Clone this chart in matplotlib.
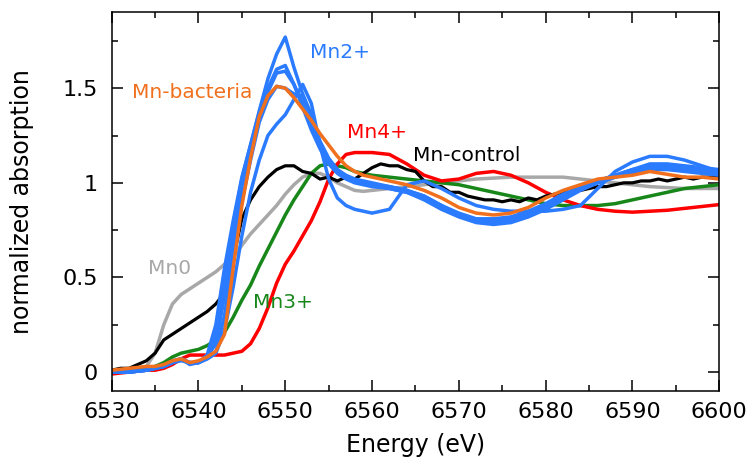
import numpy as np
import matplotlib
matplotlib.use('Agg')
import matplotlib.pyplot as plt
from matplotlib.ticker import MultipleLocator

# Energías comunes (eV) para los espectros suaves
energy = [6530, 6532, 6534, 6535, 6536, 6537, 6538, 6539, 6540, 6541, 6542, 6543,
          6544, 6545, 6546, 6547, 6548, 6549, 6550, 6551, 6552, 6553, 6554, 6555,
          6556, 6557, 6558, 6559, 6560, 6562, 6564, 6566, 6568, 6570, 6572, 6574,
          6576, 6578, 6580, 6582, 6584, 6586, 6588, 6590, 6592, 6594, 6596, 6598, 6600]

mn0 = [0.01, 0.01, 0.03, 0.10, 0.25, 0.36, 0.41, 0.44, 0.47, 0.50, 0.53, 0.57,
       0.61, 0.67, 0.73, 0.78, 0.83, 0.88, 0.94, 0.99, 1.03, 1.05, 1.05, 1.03,
       1.00, 0.98, 0.96, 0.955, 0.96, 0.97, 0.98, 0.99, 1.00, 1.01, 1.02, 1.025,
       1.03, 1.03, 1.03, 1.03, 1.02, 1.01, 1.00, 0.99, 0.98, 0.975, 0.97, 0.97, 0.97]

mn3 = [0.00, 0.01, 0.02, 0.03, 0.05, 0.08, 0.10, 0.11, 0.12, 0.14, 0.17, 0.21,
       0.29, 0.38, 0.46, 0.56, 0.65, 0.74, 0.83, 0.91, 0.98, 1.05, 1.09, 1.10,
       1.09, 1.08, 1.06, 1.05, 1.04, 1.03, 1.02, 1.01, 1.00, 0.99, 0.97, 0.95,
       0.93, 0.91, 0.89, 0.88, 0.88, 0.88, 0.89, 0.91, 0.93, 0.95, 0.97, 0.98, 0.99]

mn4 = [-0.01, 0.00, 0.01, 0.01, 0.02, 0.04, 0.07, 0.09, 0.09, 0.09, 0.09, 0.09,
       0.10, 0.11, 0.15, 0.23, 0.34, 0.47, 0.57, 0.64, 0.72, 0.80, 0.90, 1.02,
       1.10, 1.15, 1.16, 1.16, 1.16, 1.15, 1.10, 1.04, 1.01, 1.02, 1.05, 1.06,
       1.04, 1.00, 0.95, 0.91, 0.88, 0.86, 0.85, 0.845, 0.85, 0.855, 0.865, 0.875, 0.885]

bacteria = [0.01, 0.02, 0.03, 0.03, 0.04, 0.06, 0.07, 0.05, 0.06, 0.08, 0.11, 0.20,
            0.55, 0.88, 1.13, 1.35, 1.46, 1.51, 1.50, 1.45, 1.39, 1.33, 1.26, 1.20,
            1.14, 1.09, 1.06, 1.04, 1.03, 1.01, 0.99, 0.96, 0.92, 0.87, 0.84, 0.83,
            0.84, 0.87, 0.92, 0.96, 0.99, 1.02, 1.03, 1.04, 1.06, 1.045, 1.03, 1.03, 1.02]

# Referencias Mn2+ (varios compuestos)
mn2_a = [0.00, 0.00, 0.01, 0.02, 0.03, 0.05, 0.07, 0.05, 0.05, 0.09, 0.25, 0.55,
         0.80, 1.03, 1.20, 1.38, 1.55, 1.68, 1.77, 1.61, 1.47, 1.36, 1.21, 1.12,
         1.07, 1.04, 1.02, 1.01, 1.00, 0.98, 0.96, 0.93, 0.88, 0.83, 0.80, 0.79,
         0.80, 0.83, 0.87, 0.92, 0.97, 1.01, 1.04, 1.07, 1.09, 1.09, 1.08, 1.07, 1.06]
mn2_b = [0.00, 0.00, 0.01, 0.02, 0.03, 0.05, 0.07, 0.05, 0.05, 0.08, 0.20, 0.48,
         0.78, 1.02, 1.20, 1.37, 1.50, 1.60, 1.62, 1.52, 1.40, 1.28, 1.18, 1.10,
         1.05, 1.02, 1.00, 0.99, 0.98, 0.97, 0.95, 0.92, 0.87, 0.83, 0.80, 0.80,
         0.81, 0.84, 0.88, 0.93, 0.97, 1.00, 1.03, 1.05, 1.07, 1.07, 1.06, 1.05, 1.04]
mn2_c = [0.00, 0.01, 0.01, 0.02, 0.03, 0.06, 0.07, 0.04, 0.05, 0.08, 0.15, 0.40,
         0.70, 0.98, 1.18, 1.35, 1.48, 1.58, 1.59, 1.52, 1.42, 1.30, 1.19, 1.11,
         1.06, 1.03, 1.01, 1.00, 0.99, 0.97, 0.95, 0.91, 0.86, 0.82, 0.79, 0.78,
         0.79, 0.82, 0.86, 0.91, 0.96, 1.00, 1.03, 1.06, 1.08, 1.08, 1.07, 1.06, 1.05]
mn2_d = [0.00, 0.00, 0.01, 0.02, 0.03, 0.05, 0.06, 0.05, 0.05, 0.07, 0.10, 0.30,
         0.60, 0.90, 1.12, 1.32, 1.44, 1.51, 1.50, 1.47, 1.46, 1.35, 1.22, 1.13,
         1.07, 1.03, 1.01, 1.00, 0.99, 0.98, 0.96, 0.93, 0.88, 0.84, 0.81, 0.81,
         0.82, 0.85, 0.89, 0.94, 0.98, 1.01, 1.04, 1.07, 1.10, 1.10, 1.09, 1.08, 1.07]
mn2_e = [0.00, 0.00, 0.01, 0.02, 0.03, 0.05, 0.07, 0.05, 0.05, 0.07, 0.10, 0.22,
         0.45, 0.72, 0.95, 1.12, 1.25, 1.31, 1.36, 1.44, 1.52, 1.42, 1.20, 1.02,
         0.92, 0.88, 0.86, 0.85, 0.84, 0.86, 0.99, 1.01, 0.97, 0.92, 0.88, 0.86,
         0.85, 0.85, 0.85, 0.86, 0.88, 0.97, 1.06, 1.11, 1.14, 1.14, 1.12, 1.09, 1.06]

# Mn-control es ruidoso: malla de 1 eV
energy_ctrl = list(range(6530, 6601))
control = [0.01, 0.02, 0.02, 0.04, 0.06, 0.10, 0.17, 0.20, 0.23, 0.26, 0.29, 0.32,
           0.36, 0.42, 0.60, 0.81, 0.91, 0.98, 1.03, 1.07, 1.09, 1.09, 1.06, 1.05,
           1.02, 1.03, 1.01, 1.03, 1.02, 1.05, 1.08, 1.10, 1.09, 1.09, 1.07, 1.06,
           1.01, 0.98, 0.98, 0.95, 0.95, 0.93, 0.92, 0.91, 0.91, 0.90, 0.91, 0.90,
           0.92, 0.91, 0.93, 0.94, 0.95, 0.96, 0.96, 0.97, 0.98, 0.98, 0.99, 1.00,
           1.00, 1.01, 1.01, 1.02, 1.01, 1.02, 1.03, 1.02, 1.03, 1.03, 1.03]

BLUE = '#2a7bff'
ORANGE = '#f0701e'
RED = '#ff0000'
GREEN = '#17871a'
GRAY = '#a8a8a8'

plt.rcParams['font.family'] = 'DejaVu Sans'

fig = plt.figure(figsize=(7.52, 4.61), dpi=100)
ax = fig.add_axes([0.1485, 0.1518, 0.808, 0.8211])

lw = 2.5
ax.plot(energy, mn0, color=GRAY, lw=lw, solid_joinstyle='round')
ax.plot(energy, mn3, color=GREEN, lw=lw, solid_joinstyle='round')
ax.plot(energy, mn4, color=RED, lw=lw, solid_joinstyle='round')
ax.plot(energy_ctrl, control, color='black', lw=2.3)
for serie in [mn2_e, mn2_d, mn2_c, mn2_b, mn2_a]:
    ax.plot(energy, serie, color=BLUE, lw=lw, solid_joinstyle='round')
ax.plot(energy, bacteria, color=ORANGE, lw=lw, solid_joinstyle='round')

# Etiquetas de las curvas
fs = 14.5
ax.text(6552.9, 1.69, 'Mn2+', color=BLUE, fontsize=fs, va='center')
ax.text(6532.3, 1.476, 'Mn-bacteria', color=ORANGE, fontsize=fs, va='center')
ax.text(6557.1, 1.265, 'Mn4+', color=RED, fontsize=fs, va='center')
ax.text(6564.7, 1.143, 'Mn-control', color='black', fontsize=fs, va='center')
ax.text(6534.2, 0.545, 'Mn0', color=GRAY, fontsize=fs, va='center')
ax.text(6546.3, 0.37, 'Mn3+', color=GREEN, fontsize=fs, va='center')

ax.set_xlim(6530, 6600)
ax.set_ylim(-0.1, 1.9)
ax.xaxis.set_major_locator(MultipleLocator(10))
ax.xaxis.set_minor_locator(MultipleLocator(5))
ax.set_yticks([0, 0.5, 1, 1.5])
ax.set_yticklabels(['0', '0.5', '1', '1.5'])
ax.yaxis.set_minor_locator(MultipleLocator(0.25))
ax.tick_params(which='both', direction='in', top=True, right=True, width=1.1)
ax.tick_params(which='major', length=8, labelsize=16)
ax.tick_params(axis='x', which='major', pad=8)
ax.tick_params(axis='y', which='major', pad=10)
ax.tick_params(which='minor', length=4)
for s in ax.spines.values():
    s.set_linewidth(1.1)

ax.set_xlabel('Energy (eV)', fontsize=17, labelpad=8)
ax.set_ylabel('normalized absorption', fontsize=17)
ax.yaxis.set_label_coords(-0.128, 0.5)

fig.savefig('out.png', dpi=100)
